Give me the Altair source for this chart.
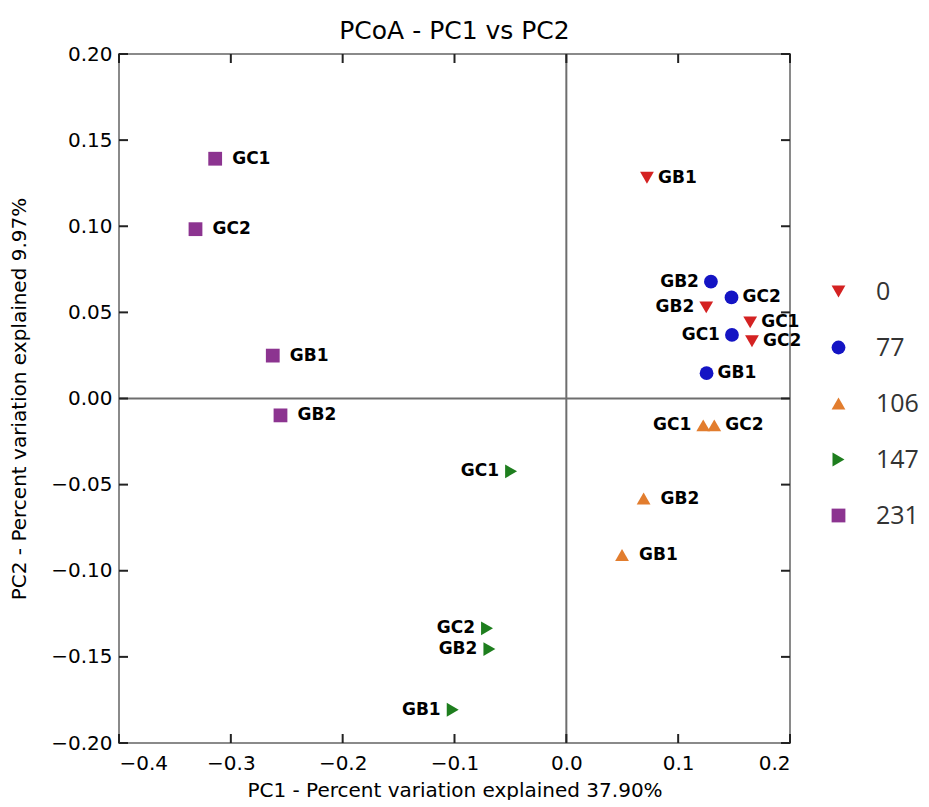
import altair as alt
import pandas as pd

# ---- data ----
groups = ["0", "0", "0", "0",
          "77", "77", "77", "77",
          "106", "106", "106", "106",
          "147", "147", "147", "147",
          "231", "231", "231", "231"]
samples = ["GB1", "GB2", "GC1", "GC2"] * 5
pc1 = [0.0721, 0.1251, 0.1644, 0.1660,
       0.1254, 0.1293, 0.1481, 0.1477,
       0.0498, 0.0691, 0.1224, 0.1323,
       -0.1016, -0.0688, -0.0494, -0.0709,
       -0.2625, -0.2556, -0.3140, -0.3316]
pc2 = [0.1282, 0.0529, 0.0442, 0.0332,
       0.0147, 0.0678, 0.0369, 0.0587,
       -0.0909, -0.0581, -0.0156, -0.0156,
       -0.1807, -0.1455, -0.0423, -0.1334,
       0.0249, -0.0098, 0.1392, 0.0983]

legend_groups = ["0", "77", "106", "147", "231"]
group_colors = ["#d42222", "#1414c4", "#e27d2e", "#1e7e1e", "#8c3490"]
group_shapes = ["triangle-down", "circle", "triangle-up", "triangle-right", "square"]

x_ticks = [-0.4, -0.3, -0.2, -0.1, 0.0, 0.1, 0.2]
y_ticks = [-0.20, -0.15, -0.10, -0.05, 0.00, 0.05, 0.10, 0.15, 0.20]

# labels placed on the left side of their marker
left_labels = ["0-GB2", "77-GB2", "77-GC1", "106-GC1",
               "147-GB1", "147-GB2", "147-GC1", "147-GC2"]
# labels placed a little further to the right
far_labels = ["231-GB1", "231-GB2", "231-GC1", "231-GC2", "106-GB1", "106-GB2"]

df = pd.DataFrame({"group": groups, "sample": samples, "PC1": pc1, "PC2": pc2})
df["key"] = df["group"] + "-" + df["sample"]
df["side"] = "right"
df.loc[df["key"].isin(far_labels), "side"] = "far"
df.loc[df["key"].isin(left_labels), "side"] = "left"

FONT = "DejaVu Sans"
W, H = 671, 689
TL = 9

X = alt.X("PC1:Q",
          scale=alt.Scale(domain=[-0.4, 0.2], nice=False, zero=False),
          axis=alt.Axis(values=x_ticks, format=".1f", grid=False, domain=False,
                        ticks=False, tickSize=0, labelPadding=10,
                        labelFontSize=20, labelFont=FONT, labelColor="black",
                        title="PC1 - Percent variation explained 37.90%",
                        titleFontSize=20, titleFont=FONT, titleFontWeight="normal",
                        titleColor="black", titlePadding=7))
Y = alt.Y("PC2:Q",
          scale=alt.Scale(domain=[-0.2, 0.2], nice=False, zero=False),
          axis=alt.Axis(values=y_ticks, format=".2f", grid=False, domain=False,
                        ticks=False, tickSize=0, labelPadding=7,
                        labelFontSize=20, labelFont=FONT, labelColor="black",
                        title="PC2 - Percent variation explained 9.97%",
                        titleFontSize=20, titleFont=FONT, titleFontWeight="normal",
                        titleColor="black", titlePadding=21))

xt = pd.DataFrame({"PC1": x_ticks})
yt = pd.DataFrame({"PC2": y_ticks})

tick_layers = [
    alt.Chart(xt).mark_rule(color="#222", strokeWidth=2).encode(
        x=X, y=alt.value(0), y2=alt.value(TL)),
    alt.Chart(xt).mark_rule(color="#222", strokeWidth=2).encode(
        x=X, y=alt.value(H), y2=alt.value(H - TL)),
    alt.Chart(yt).mark_rule(color="#222", strokeWidth=2).encode(
        y=Y, x=alt.value(0), x2=alt.value(TL)),
    alt.Chart(yt).mark_rule(color="#222", strokeWidth=2).encode(
        y=Y, x=alt.value(W), x2=alt.value(W - TL)),
]

zero_v = alt.Chart(pd.DataFrame({"PC1": [0.0]})).mark_rule(
    color="#6e6e6e", strokeWidth=2).encode(x=X)
zero_h = alt.Chart(pd.DataFrame({"PC2": [0.0]})).mark_rule(
    color="#6e6e6e", strokeWidth=2).encode(y=Y)

base = alt.Chart(df)

leg = dict(title=None, orient="none", legendX=707, legendY=225,
           symbolSize=190, symbolStrokeWidth=0,
           labelFontSize=25, labelFont="Open Sans",
           labelColor="#333333", labelOffset=25,
           rowPadding=30, padding=0)

points = base.mark_point(filled=True, opacity=1, size=190).encode(
    x=X, y=Y,
    color=alt.Color("group:N",
                    scale=alt.Scale(domain=legend_groups, range=group_colors),
                    legend=alt.Legend(**leg)),
    shape=alt.Shape("group:N",
                    scale=alt.Scale(domain=legend_groups, range=group_shapes),
                    legend=alt.Legend(**leg)),
)

def labels(side, align, dx):
    return base.transform_filter(alt.datum.side == side).mark_text(
        align=align, baseline="middle", dx=dx, font=FONT, fontSize=17,
        fontWeight="bold", color="black").encode(x=X, y=Y, text="sample:N")

chart = alt.layer(
    zero_v, zero_h,
    *tick_layers,
    points,
    labels("right", "left", 11),
    labels("far", "left", 17),
    labels("left", "right", -12),
).properties(
    width=W, height=H,
    padding={"left": 1, "top": 11, "right": 0, "bottom": 0},
    title=alt.TitleParams("PCoA - PC1 vs PC2", fontSize=25, fontWeight="normal",
                          font=FONT, color="black", offset=0),
).configure_view(stroke="#8a8a8a", strokeWidth=2)

chart.save("out.html", embed_options={"renderer": "svg", "actions": False})
